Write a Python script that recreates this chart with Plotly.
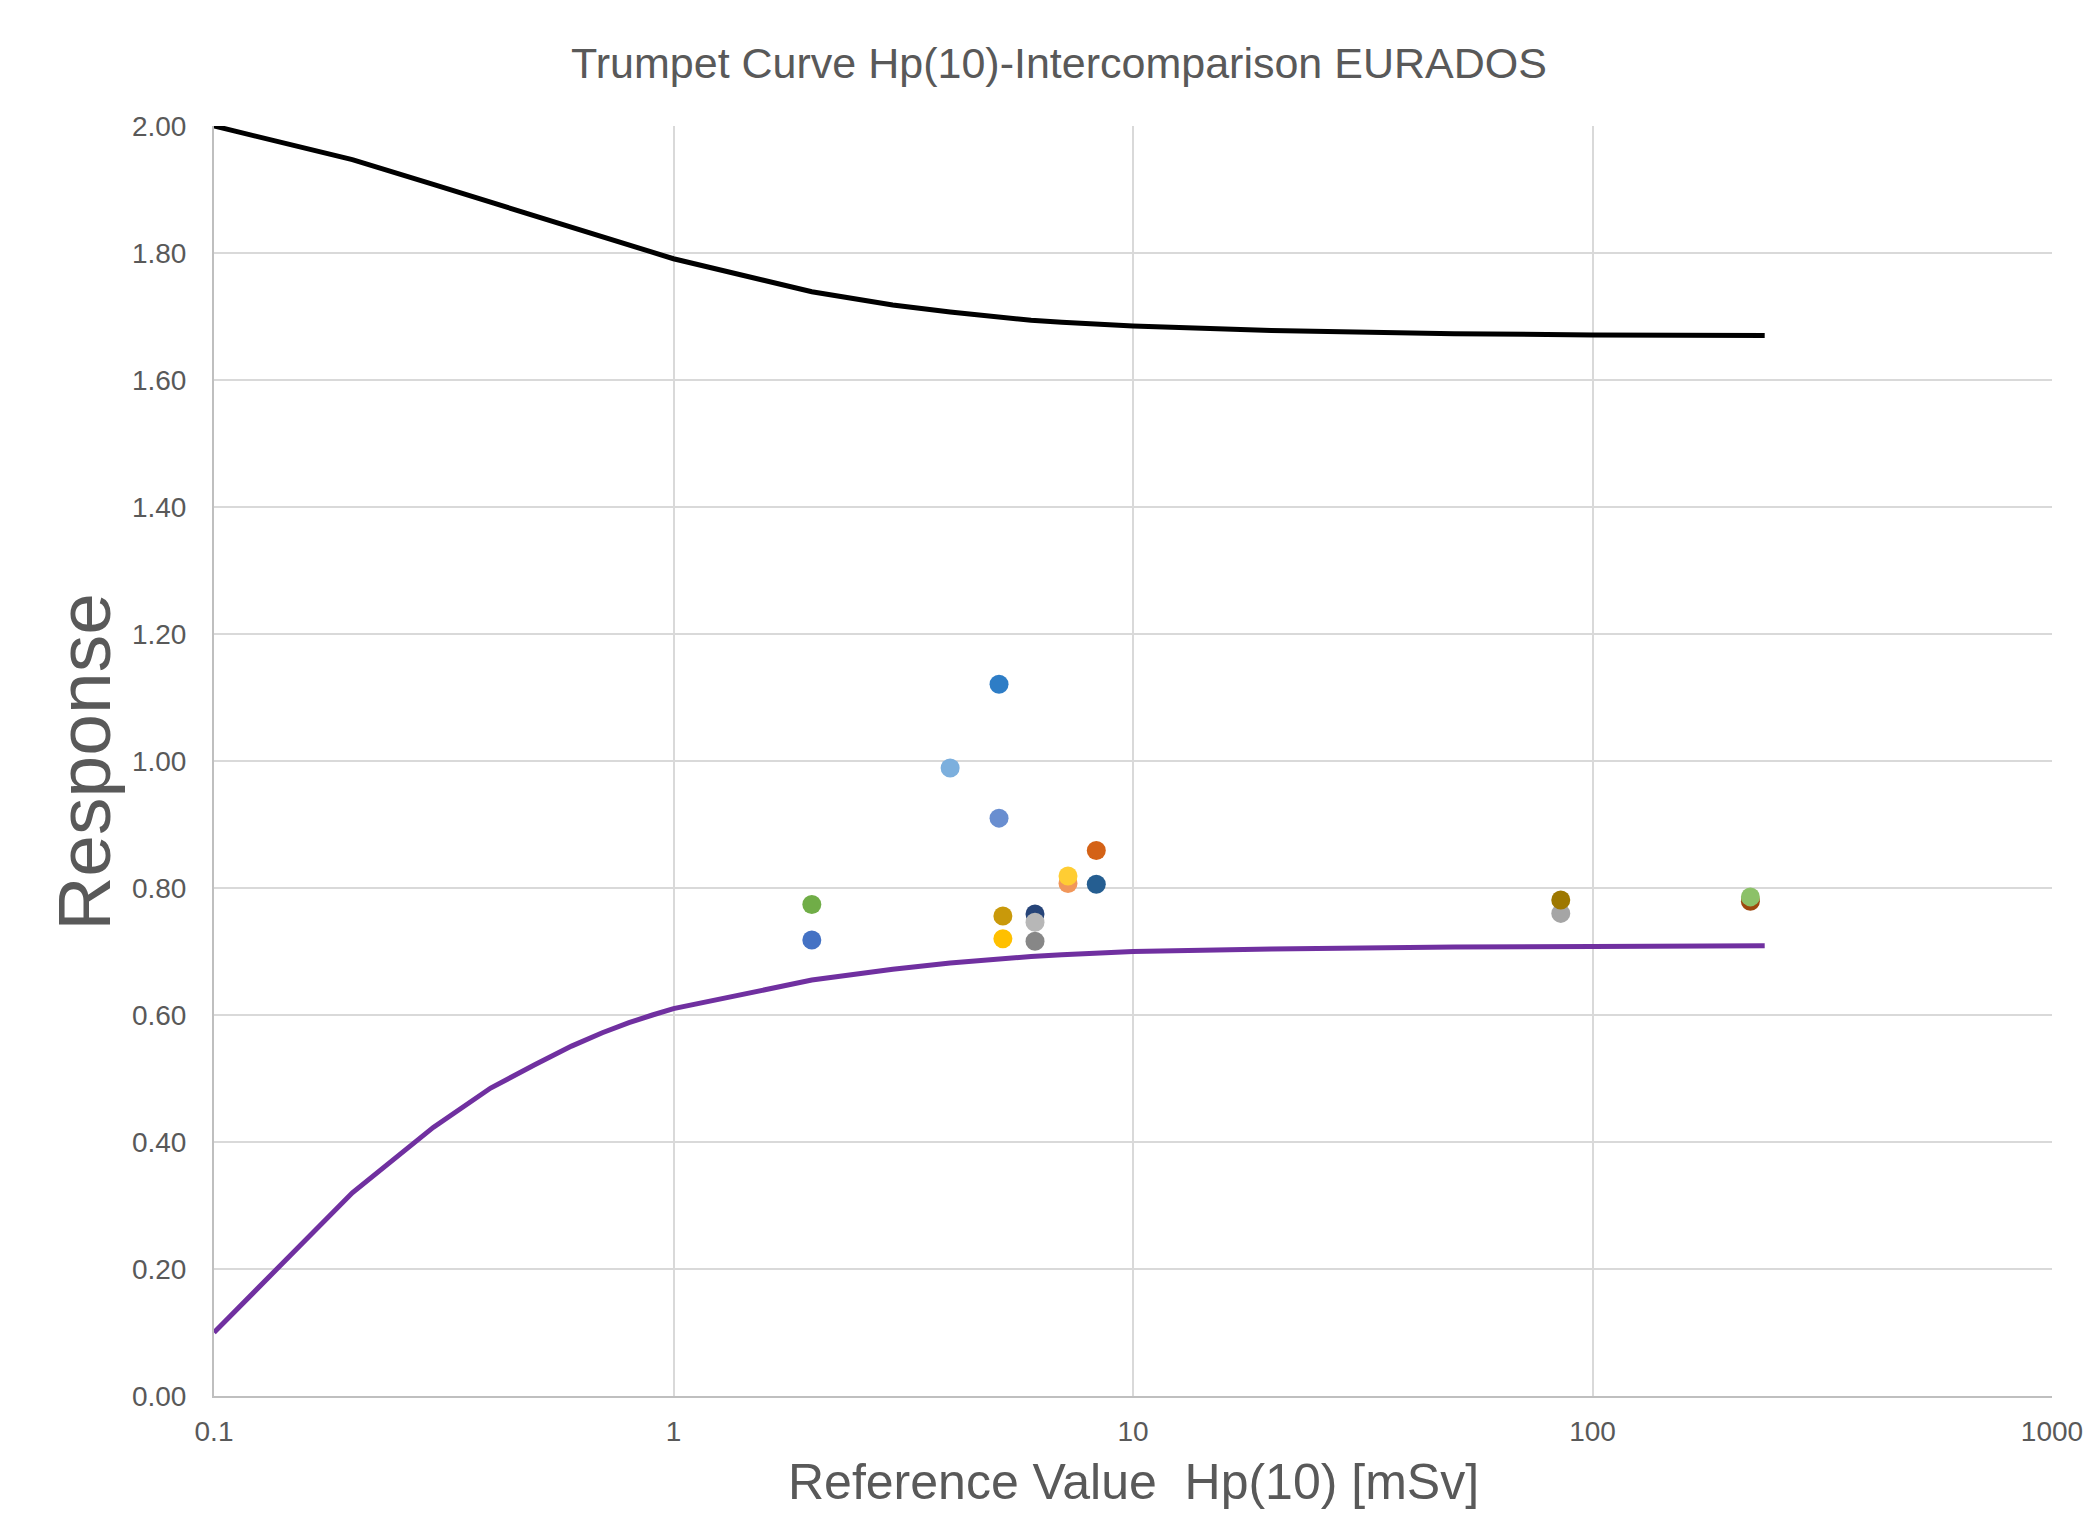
import plotly.graph_objects as go

# Trumpet curve limits
curve_x = [0.1, 0.2, 0.3, 0.4, 0.5, 0.6, 0.7, 0.8, 0.9, 1, 2, 3, 4, 5, 6, 7, 8, 9, 10, 20, 30, 50, 100, 200, 237]
upper_y = [2.00, 1.947, 1.908, 1.880, 1.858, 1.841, 1.826, 1.813, 1.801, 1.791, 1.739, 1.718, 1.707, 1.699,
           1.694, 1.691, 1.689, 1.687, 1.685, 1.678, 1.675, 1.673, 1.671, 1.670, 1.670]
lower_y = [0.10, 0.32, 0.423, 0.485, 0.522, 0.551, 0.572, 0.588, 0.600, 0.610, 0.655, 0.672, 0.682, 0.688,
           0.692, 0.695, 0.697, 0.698, 0.700, 0.704, 0.706, 0.707, 0.708, 0.709, 0.709]

# Participant results
pt_x = [2.00, 2.00, 4.00, 5.11, 5.11, 5.21, 5.21, 6.12, 6.12, 6.12, 7.22, 7.22, 8.32, 8.32, 85.3, 85.3, 220.6, 220.6]
pt_y = [0.718, 0.774, 0.989, 1.121, 0.910, 0.756, 0.720, 0.759, 0.746, 0.716, 0.807, 0.819, 0.859, 0.806,
        0.760, 0.781, 0.779, 0.786]
pt_colors = ["#4472C4", "#70AD47", "#7CAFDD", "#2E7DC6", "#698ED0", "#C9990A", "#FFC000", "#264478",
             "#B7B7B7", "#878787", "#F1975A", "#FFCD33", "#D46216", "#255E91", "#A5A5A5", "#9E7800",
             "#9E480E", "#8CC168"]

x_tickvals = [0.1, 1, 10, 100, 1000]
x_ticktext = ["0.1", "1", "10", "100", "1000"]

FONT = "Arial, Liberation Sans, Helvetica, sans-serif"
GREY = "#595959"

W, H = 2083, 1505
L, R, T, B = 205.5, 38.5, 117.7, 116.5
plot_w = W - L - R
plot_h = H - T - B

fig = go.Figure()
fig.add_trace(go.Scatter(x=curve_x, y=upper_y, mode="lines",
                         line=dict(color="#000000", width=5), hoverinfo="skip"))
fig.add_trace(go.Scatter(x=curve_x, y=lower_y, mode="lines",
                         line=dict(color="#7030A0", width=5), hoverinfo="skip"))
fig.add_trace(go.Scatter(x=pt_x, y=pt_y, mode="markers",
                         marker=dict(color=pt_colors, size=19, line=dict(width=0))))

fig.update_layout(
    width=W, height=H,
    paper_bgcolor="white", plot_bgcolor="white",
    margin=dict(l=L, r=R, t=T, b=B, autoexpand=False),
    showlegend=False,
    title=dict(text="Trumpet Curve Hp(10)-Intercomparison EURADOS",
               x=1051 / W, xanchor="center", y=1 - 55 / H, yanchor="middle",
               font=dict(family=FONT, size=43, color=GREY)),
    font=dict(family=FONT, color=GREY),
    annotations=[
        dict(text="Response", xref="paper", yref="paper",
             x=(76 - L) / plot_w, y=0.499, xanchor="center", yanchor="middle",
             textangle=-90, showarrow=False,
             font=dict(family=FONT, size=75, color=GREY)),
        dict(text="Reference Value  Hp(10) [mSv]", xref="paper", yref="paper",
             x=0.5, y=-86 / plot_h, xanchor="center", yanchor="middle",
             showarrow=False, font=dict(family=FONT, size=50, color=GREY)),
    ],
)
fig.update_xaxes(type="log", range=[-1, 3], tickvals=x_tickvals, ticktext=x_ticktext,
                 showgrid=True, gridcolor="#D9D9D9", gridwidth=2,
                 showline=True, linecolor="#BFBFBF", linewidth=2,
                 ticks="", tickfont=dict(size=28, color=GREY), ticklabelstandoff=9,
                 zeroline=False, automargin=False)
fig.update_yaxes(range=[0, 2], dtick=0.2, tick0=0, tickformat=".2f",
                 showgrid=True, gridcolor="#D9D9D9", gridwidth=2,
                 showline=True, linecolor="#BFBFBF", linewidth=2,
                 ticks="", tickfont=dict(size=28, color=GREY), ticklabelstandoff=20,
                 zeroline=False, automargin=False)

fig.write_html("out.html")
